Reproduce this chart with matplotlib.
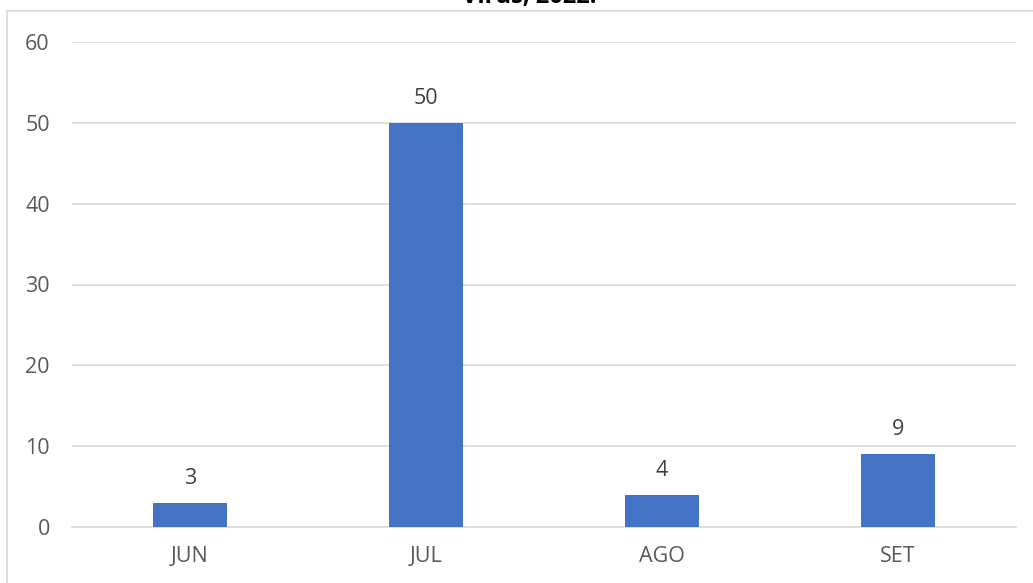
import matplotlib
matplotlib.use("Agg")
import matplotlib.pyplot as plt
from matplotlib.lines import Line2D

categories = ["JUN", "JUL", "AGO", "SET"]
values = [3, 50, 4, 9]
yticks = [0, 10, 20, 30, 40, 50, 60]

plt.rcParams['font.family'] = ['Open Sans', 'DejaVu Sans']

W, H = 1033, 583
fig = plt.figure(figsize=(W / 100, H / 100), dpi=100)
ax = fig.add_axes([72 / W, 1 - 527 / H, 944 / W, (527 - 42) / H])

x = range(len(categories))
bars = ax.bar(x, values, width=0.31, color="#4472c4", zorder=3)
for xi, v in zip(x, values):
    ax.annotate(str(v), (xi, v), xytext=(0, 10), textcoords="offset points",
                ha="center", va="bottom", fontsize=15.5, color="#404040")

ax.set_xlim(-0.5, len(categories) - 0.5)
ax.set_ylim(0, 60)
ax.set_yticks(yticks)
ax.set_xticks(list(x))
ax.set_xticklabels(categories)
ax.yaxis.grid(True, color="#d9d9d9", linewidth=1.2, zorder=0)
ax.set_axisbelow(True)
for s in ["top", "right", "left"]:
    ax.spines[s].set_visible(False)
ax.spines["bottom"].set_color("#d9d9d9")
ax.spines["bottom"].set_linewidth(1.2)
ax.tick_params(axis="both", length=0, labelsize=15.5, colors="#595959")
ax.tick_params(axis="y", pad=16)
ax.tick_params(axis="x", pad=14)

# outer chart frame (partially cropped)
fig.add_artist(Line2D([7 / W, 7 / W], [0, 1 - 11 / H], transform=fig.transFigure,
                      color="#d9d9d9", linewidth=1.2))
fig.add_artist(Line2D([7 / W, 1], [1 - 11 / H, 1 - 11 / H], transform=fig.transFigure,
                      color="#d9d9d9", linewidth=1.2))

# cropped title (top part lies outside the picture, as in the reference)
fig.text(529 / W, 1 - 3 / H, "Virus, 2022.", ha="center", va="baseline",
         fontsize=17, fontweight="bold", color="#000000")

fig.savefig("out.png", dpi=100)
